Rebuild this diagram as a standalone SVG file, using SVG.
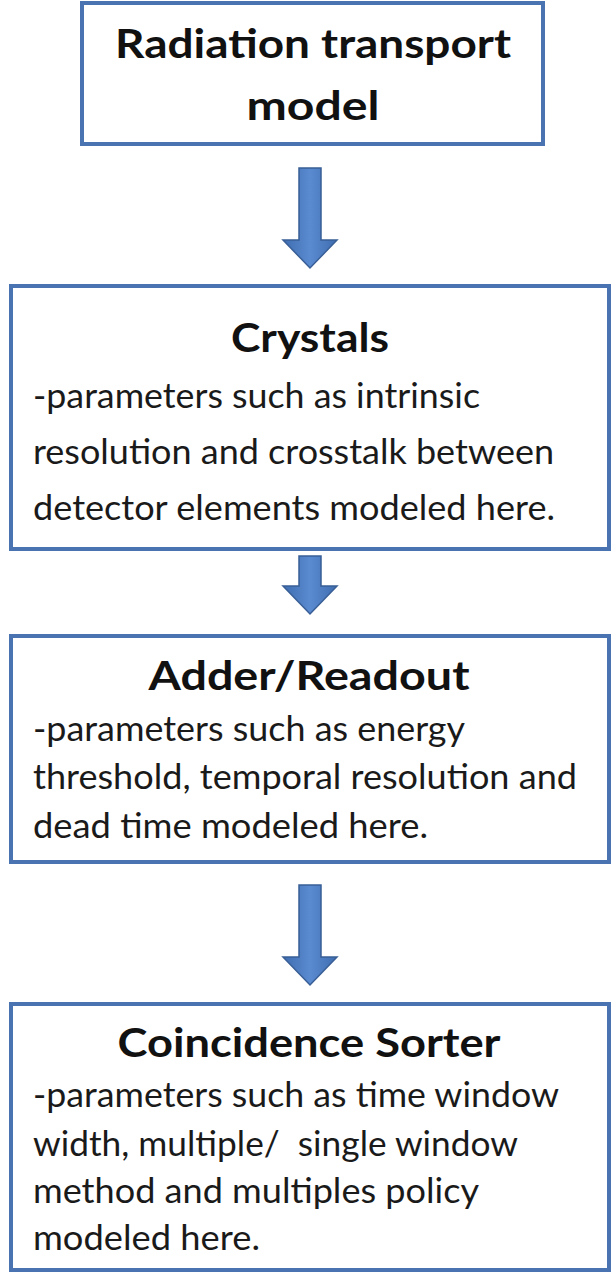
<svg xmlns="http://www.w3.org/2000/svg" width="616" height="1276" viewBox="0 0 616 1276">
<style>
.box{fill:#ffffff;stroke:#4a73b2;stroke-width:4}
.ttl{font-family:Lato,"Open Sans","Liberation Sans",sans-serif;font-weight:bold;font-size:41px;fill:#111111;text-anchor:middle}
.txt{font-family:Lato,"Open Sans","Liberation Sans",sans-serif;font-size:35px;fill:#1a1a1a}
.arr{fill:url(#ag);stroke:#395f96;stroke-width:1.5;stroke-linejoin:miter}
</style>
<defs>
<linearGradient id="ag" x1="0" y1="0" x2="1" y2="0">
<stop offset="0" stop-color="#3f6db0"/>
<stop offset="0.5" stop-color="#5a8ad0"/>
<stop offset="1" stop-color="#3f6db0"/>
</linearGradient>
</defs>
<rect width="616" height="1276" fill="#ffffff"/>
<g id="connectors">
<path class="arr" d="M299,168 H321 V240 H337 L310,268 L283,240 H299 Z"/>
<path class="arr" d="M299,556 H321 V586 H337 L310,614 L283,586 H299 Z"/>
<path class="arr" d="M299,885 H321 V957 H337 L310,985 L283,957 H299 Z"/>
</g>
<g id="node-radiation">
<rect class="box" x="82" y="3" width="461" height="141"/>
<text class="ttl" x="313" y="58" textLength="396" lengthAdjust="spacingAndGlyphs">Radiation transport</text>
<text class="ttl" x="313" y="120" textLength="133" lengthAdjust="spacingAndGlyphs">model</text>
</g>
<g id="node-crystals">
<rect class="box" x="11" y="286" width="598" height="263"/>
<text class="ttl" x="310" y="352" textLength="158" lengthAdjust="spacingAndGlyphs">Crystals</text>
<text class="txt" x="33" y="408" textLength="447" lengthAdjust="spacingAndGlyphs">-parameters such as intrinsic</text>
<text class="txt" x="33" y="464" textLength="521" lengthAdjust="spacingAndGlyphs">resolution and crosstalk between</text>
<text class="txt" x="33" y="520" textLength="522" lengthAdjust="spacingAndGlyphs">detector elements modeled here.</text>
</g>
<g id="node-adder">
<rect class="box" x="11" y="636" width="598" height="226"/>
<text class="ttl" x="309" y="690" textLength="321" lengthAdjust="spacingAndGlyphs">Adder/Readout</text>
<text class="txt" x="33" y="741" textLength="432" lengthAdjust="spacingAndGlyphs">-parameters such as energy</text>
<text class="txt" x="33" y="789" textLength="544" lengthAdjust="spacingAndGlyphs">threshold, temporal resolution and</text>
<text class="txt" x="33" y="838" textLength="395" lengthAdjust="spacingAndGlyphs">dead time modeled here.</text>
</g>
<g id="node-coincidence">
<rect class="box" x="11" y="1004" width="598" height="266"/>
<text class="ttl" x="309" y="1057" textLength="383" lengthAdjust="spacingAndGlyphs">Coincidence Sorter</text>
<text class="txt" x="33" y="1107" textLength="526" lengthAdjust="spacingAndGlyphs">-parameters such as time window</text>
<text class="txt" x="33" y="1156" textLength="485" lengthAdjust="spacingAndGlyphs" xml:space="preserve">width, multiple/  single window</text>
<text class="txt" x="33" y="1203" textLength="446" lengthAdjust="spacingAndGlyphs">method and multiples policy</text>
<text class="txt" x="33" y="1250" textLength="227" lengthAdjust="spacingAndGlyphs">modeled here.</text>
</g>
</svg>
